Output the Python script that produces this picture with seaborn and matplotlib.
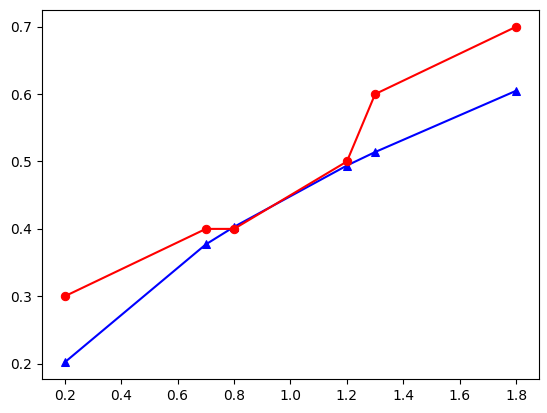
import matplotlib
matplotlib.use("Agg")
import matplotlib.pyplot as plt
import seaborn as sns

# values
x = [0.2, 0.7, 0.8, 1.2, 1.3, 1.8]
red_y = [0.3, 0.4, 0.4, 0.5, 0.6, 0.7]
blue_y = [0.202, 0.377, 0.403, 0.494, 0.514, 0.605]

fig, ax = plt.subplots(figsize=(5.47, 4.13), dpi=100)
fig.subplots_adjust(left=0.077, right=0.985, top=0.976, bottom=0.082)

# blue first so the red line sits on top, as in the reference
sns.lineplot(x=x, y=blue_y, color="blue", marker="^", markersize=6,
             markeredgecolor="blue", linewidth=1.5, ax=ax)
sns.lineplot(x=x, y=red_y, color="red", marker="o", markersize=6,
             markeredgecolor="red", linewidth=1.5, ax=ax)

ax.set_xticks([0.2, 0.4, 0.6, 0.8, 1.0, 1.2, 1.4, 1.6, 1.8])
ax.set_yticks([0.2, 0.3, 0.4, 0.5, 0.6, 0.7])

fig.savefig("out.png", dpi=100)
